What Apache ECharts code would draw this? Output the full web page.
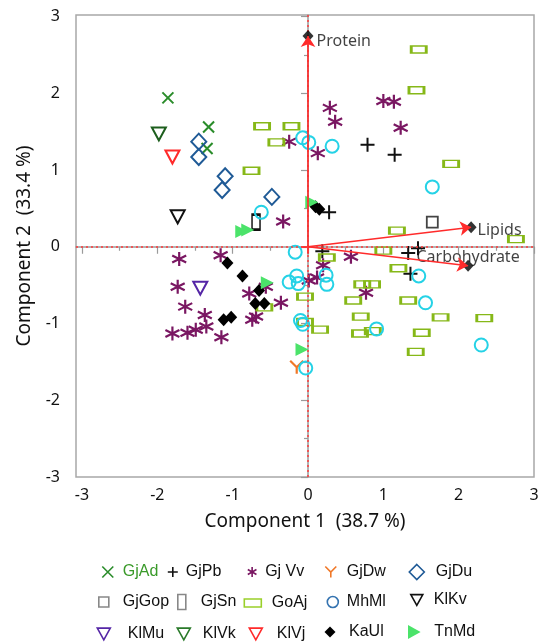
<!DOCTYPE html>
<html><head><meta charset="utf-8">
<script src="https://cdn.jsdelivr.net/npm/echarts@6/dist/echarts.min.js"></script>
<style>html,body{margin:0;padding:0;background:#fff}#c{width:542px;height:642px}</style>
</head><body><div id="c"></div>
<script>
// ---------- data ----------
const groups = ['GjAd','GjPb','Gj Vv','GjDw','GjDu','GjGop','GjSn','GoAj','MhMl','KlKv','KlMu','KlVk','KlVj','KaUl','TnMd'];
const gjAd = [[-1.86,1.94],[-1.32,1.56],[-1.34,1.28]];
const gjPb = [[0.79,1.33],[1.15,1.20],[0.28,0.45],[0.19,-0.06],[1.46,-0.02],[1.33,-0.08],[1.36,-0.35]];
const gjVv = [[0.29,1.81],[0.36,1.63],[1.00,1.90],[1.14,1.89],[1.23,1.55],[0.13,1.22],[-0.25,1.37],[-0.33,0.33],
  [-1.71,-0.16],[-1.16,-0.11],[-1.73,-0.52],[-1.63,-0.78],[-1.37,-0.89],[-1.35,-1.04],[-1.80,-1.13],[-1.60,-1.12],
  [-1.49,-1.08],[-1.15,-1.18],[-0.78,-0.61],[-0.56,-0.52],[-0.36,-0.73],[-0.74,-0.95],[-0.69,-0.91],
  [0.01,-0.44],[0.12,-0.40],[0.20,-0.24],[0.57,-0.13],[0.77,-0.60]];
const gjDw = [[-0.15,-1.57]];
const gjDu = [[-1.45,1.37],[-1.45,1.17],[-1.10,0.92],[-1.14,0.74],[-0.48,0.65]];
const gjGop = [[1.65,0.32]];
const gjSn = [[-0.69,0.32]];
const goAj = [[-0.61,1.57],[-0.22,1.57],[-0.42,1.36],[-0.75,0.99],[1.47,2.57],[1.44,2.04],[1.90,1.08],[1.18,0.21],
  [2.76,0.10],[1.00,-0.05],[1.20,-0.28],[0.72,-0.49],[0.85,-0.49],[0.60,-0.70],[1.33,-0.70],[0.70,-0.91],
  [1.76,-0.92],[2.34,-0.93],[0.69,-1.13],[0.86,-1.10],[1.51,-1.12],[1.43,-1.37],[0.25,-0.14],[-0.04,-0.65],
  [-0.04,-0.98],[0.16,-1.08],[-0.58,-0.79]];
const mhMl = [[-0.07,1.42],[0.01,1.36],[0.32,1.31],[1.65,0.78],[-0.62,0.45],[-0.17,-0.07],[-0.25,-0.46],[-0.15,-0.38],
  [-0.13,-0.48],[0.24,-0.37],[0.25,-0.49],[-0.10,-0.96],[-0.07,-1.01],[-0.03,-1.58],[1.47,-0.38],[1.56,-0.73],
  [0.91,-1.07],[2.30,-1.28]];
const klKv = [[-1.73,0.39]];
const klMu = [[-1.43,-0.54]];
const klVk = [[-1.98,1.47]];
const klVj = [[-1.80,1.17]];
const kaUl = [[-1.07,-0.21],[-0.87,-0.38],[-0.65,-0.57],[-0.70,-0.74],[-0.58,-0.74],[-1.12,-0.95],[-1.02,-0.92],[0.10,0.52],[0.15,0.49]];
const tnMd = [[-0.88,0.20],[-0.80,0.22],[0.05,0.58],[-0.54,-0.47],[-0.08,-1.34]];

const loadingNames = ['Protein','Lipids','Carbohydrate'];
const loadingX = [0, 2.165, 2.125];
const loadingY = [2.745, 0.254, -0.248];

const xTicks = [-3,-2,-1,0,1,2,3];
const xMinorTicks = [-2.5,-1.5,-0.5,0.5,1.5,2.5];
const yTicks = [-3,-2,-1,0,1,2,3];
const yMinorTicks = [-2.5,-1.5,-0.5,0.5,1.5,2.5];
const xTitle = 'Component 1  (38.7 %)';
const yTitle = 'Component 2  (33.4 %)';

const groupData = {'GjAd':gjAd,'GjPb':gjPb,'Gj Vv':gjVv,'GjDw':gjDw,'GjDu':gjDu,'GjGop':gjGop,'GjSn':gjSn,
  'GoAj':goAj,'MhMl':mhMl,'KlKv':klKv,'KlMu':klMu,'KlVk':klVk,'KlVj':klVj,'KaUl':kaUl,'TnMd':tnMd};

// ---------- styles ----------
const P_X = 'path://M0,0L10,10M10,0L0,10';
const P_PLUS = 'path://M5,0L5,10M0,5L10,5';
const P_AST = 'path://M5,0L5,10M0.67,2.5L9.33,7.5M0.67,7.5L9.33,2.5';
const P_Y = 'path://M0,0L5,5L10,0M5,5L5,10';
const P_DOWN = 'path://M0,0L10,0L5,9Z';
const P_RIGHT = 'path://M0,0L9,5L0,10Z';
const T = 'transparent';
const styles = {
  'GjAd': {symbol:P_X, size:11, fill:T, stroke:'#2a8c2a', bw:2},
  'GjPb': {symbol:P_PLUS, size:14, fill:T, stroke:'#111', bw:2},
  'Gj Vv': {symbol:P_AST, size:14, fill:T, stroke:'#7a1762', bw:2.2},
  'GjDw': {symbol:P_Y, size:13, fill:T, stroke:'#f07828', bw:2.2},
  'GjDu': {symbol:'diamond', size:[15,16], fill:T, stroke:'#1f5a96', bw:2},
  'GjGop': {symbol:'rect', size:[11,11], fill:T, stroke:'#444', bw:1.8},
  'GjSn': {symbol:'rect', size:[8,15], fill:T, stroke:'#111', bw:2},
  'GoAj': {symbol:'rect', size:[15,7], fill:T, stroke:'#86b818', bw:2},
  'MhMl': {symbol:'circle', size:13, fill:T, stroke:'#25d2e6', bw:2},
  'KlKv': {symbol:P_DOWN, size:[14,13], fill:T, stroke:'#111', bw:2},
  'KlMu': {symbol:P_DOWN, size:[14,13], fill:T, stroke:'#5526a6', bw:2},
  'KlVk': {symbol:P_DOWN, size:[14,13], fill:T, stroke:'#1d5e1d', bw:2},
  'KlVj': {symbol:P_DOWN, size:[14,13], fill:T, stroke:'#ff2a2a', bw:2},
  'KaUl': {symbol:'diamond', size:[12,13], fill:'#000', stroke:'#000', bw:0},
  'TnMd': {symbol:P_RIGHT, size:[13,13], fill:'#4be36a', stroke:'#4be36a', bw:0}
};

// legend layout: [iconCenterX, textStartX, rowCenterY, iconW, iconH, keepAspect, legend colour override, text colour]
const legendLayout = {
  'GjAd': [107,122,572,11,11,true,null,'#3a9a2a'],
  'GjPb': [172,185,572,10,10,true,null,null],
  'Gj Vv': [252,265,572,10,10,true,null,null],
  'GjDw': [330,346,572,11,11,true,null,null],
  'GjDu': [416,435,572,15,15,true,null,null],
  'GjGop': [103,122,602,10,10,false,'#888',null],
  'GjSn': [181,200,602,8,15,false,'#888',null],
  'GoAj': [252,271,603,17,8,false,'#9ad02a',null],
  'MhMl': [332,346,602,11,11,true,'#3473b0',null],
  'KlKv': [416,433,600,12,11,true,null,null],
  'KlMu': [103,127,634,13,12,true,null,null],
  'KlVk': [183,202,634,13,12,true,'#2a7a2a',null],
  'KlVj': [255,276,634,13,12,true,null,null],
  'KaUl': [330,349,632,11,11,true,null,null],
  'TnMd': [415,435,632,14,14,true,null,null]
};

const FONT = 'Noto Sans';
const LFONT = 'Liberation Sans';

const series = groups.map(name => {
  const st = styles[name];
  return {
    type: 'scatter', name: name, data: groupData[name],
    symbol: st.symbol, symbolSize: st.size,
    itemStyle: {color: st.fill, borderColor: st.stroke, borderWidth: st.bw, opacity: 1},
    emphasis: {disabled: true}, z: 3
  };
});

// reference lines + loading vectors
series.push({
  type: 'lines', coordinateSystem: 'cartesian2d', name: 'vectors', silent: true, z: 6,
  data: loadingNames.map((n, i) => ({coords: [[0, 0], [loadingX[i], loadingY[i]]]})),
  symbol: ['none', 'arrow'], symbolSize: 11,
  lineStyle: {color: '#ff2b2b', width: 1.6, opacity: 1},
  markLine: {
    silent: true, symbol: 'none', label: {show: false},
    lineStyle: {color: '#ff3b3b', type: [2, 3], width: 1.5},
    data: [{xAxis: 0}, {yAxis: 0}]
  }
});
const labelCfg = [
  {position: 'right', distance: 3, offset: [0, 5]},
  {position: 'right', distance: 1, offset: [0, 3]},
  {position: 'inside', offset: [0, -8]}
];
series.push({
  type: 'scatter', name: 'loadings', silent: true, z: 5,
  symbol: 'diamond', symbolSize: [11, 12], itemStyle: {color: '#000'},
  data: loadingNames.map((n, i) => ({name: n, value: [loadingX[i], loadingY[i]], label: labelCfg[i]})),
  label: {show: true, formatter: '{b}', color: '#111', fontSize: 16, fontFamily: FONT}
});

const legends = groups.map(name => {
  const L = legendLayout[name];
  const st = styles[name];
  const [cx, tx, cy, w, h, keep, col, tcol] = L;
  const item = {name: name, itemStyle: {borderWidth: st.bw === 0 ? 0 : 1.6}};
  if (col) { item.itemStyle.borderColor = col; }
  if (name === 'MhMl') item.itemStyle.borderColor = col;
  const pad = Math.max(0, tx - (cx + w / 2 + 5));
  item.textStyle = {padding: [0, 0, 0, pad]};
  if (tcol) item.textStyle.color = tcol;
  return {
    data: [item], left: cx - w / 2, top: cy - 9, padding: 0,
    itemWidth: w, itemHeight: h, symbolKeepAspect: keep, selectedMode: false,
    textStyle: {fontFamily: LFONT, fontSize: 16, color: '#111', lineHeight: 18}
  };
});

const axisGray = '#9a9a9a';
const baseAxisLine = {show: true, lineStyle: {color: axisGray, width: 1.5}};
const option = {
  animation: false,
  backgroundColor: '#fff',
  grid: {left: 76, right: 8, top: 15, bottom: 165, show: true, borderColor: '#a8a8a8', borderWidth: 1.5, containLabel: false},
  legend: legends,
  xAxis: [
    {type: 'value', min: -3.08, max: 3, position: 'bottom', name: xTitle, nameLocation: 'middle', nameGap: 35,
     nameTextStyle: {fontFamily: FONT, fontSize: 19, color: '#111'},
     axisLine: baseAxisLine, splitLine: {show: false},
     axisTick: {show: true, customValues: xTicks, length: 7, lineStyle: {color: axisGray, width: 1.2}},
     axisLabel: {customValues: xTicks, margin: 10, fontFamily: FONT, fontSize: 16, color: '#111'}},
    {type: 'value', min: -3.08, max: 3, position: 'bottom', axisLine: {show: false}, splitLine: {show: false},
     axisTick: {show: true, customValues: xMinorTicks, length: 4, lineStyle: {color: axisGray, width: 1.2}},
     axisLabel: {show: false}},
    {type: 'value', min: -3.08, max: 3, position: 'bottom', axisLine: {show: false}, splitLine: {show: false},
     axisTick: {show: true, customValues: [0], length: 7, lineStyle: {color: '#ff2b2b', width: 1.8}},
     axisLabel: {show: false}}
  ],
  yAxis: [
    {type: 'value', min: -3, max: 3.02, position: 'left', name: yTitle, nameLocation: 'middle', nameGap: 42,
     nameTextStyle: {fontFamily: FONT, fontSize: 19, color: '#111'},
     axisLine: baseAxisLine, splitLine: {show: false},
     axisTick: {show: true, customValues: yTicks, length: 7, lineStyle: {color: axisGray, width: 1.2}},
     axisLabel: {customValues: yTicks, margin: 16, fontFamily: FONT, fontSize: 16, color: '#111'}},
    {type: 'value', min: -3, max: 3.02, position: 'left', axisLine: {show: false}, splitLine: {show: false},
     axisTick: {show: true, customValues: yMinorTicks, length: 4, lineStyle: {color: axisGray, width: 1.2}},
     axisLabel: {show: false}},
    {type: 'value', min: -3, max: 3.02, position: 'left', axisLine: {show: false}, splitLine: {show: false},
     axisTick: {show: true, customValues: [0], length: 7, lineStyle: {color: '#ff2b2b', width: 1.8}},
     axisLabel: {show: false}}
  ],
  series: series
};
const chart = echarts.init(document.getElementById('c'), null, {renderer: 'canvas'});
chart.setOption(option);
</script>
</body></html>
